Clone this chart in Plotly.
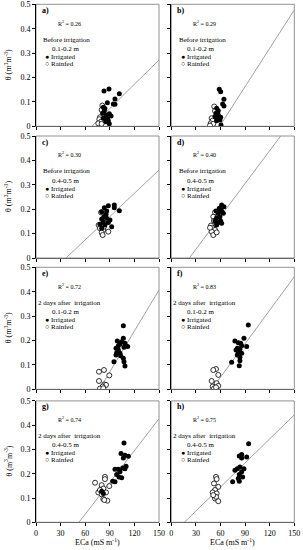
import plotly.graph_objects as go
import numpy as np

# ---------------- data ----------------
panels = ["a", "b", "c", "d", "e", "f", "g", "h"]
r2_values = ["0.26", "0.29", "0.30", "0.40", "0.72", "0.83", "0.74", "0.75"]
header_lines = ["Before irrigation", "Before irrigation", "Before irrigation", "Before irrigation",
                "2 days after  irrigation", "2 days after  irrigation",
                "2 days after  irrigation", "2 days after  irrigation"]
depth_labels = ["0.1-0.2 m", "0.1-0.2 m", "0.4-0.5 m", "0.4-0.5 m",
                "0.1-0.2 m", "0.1-0.2 m", "0.4-0.5 m", "0.4-0.5 m"]
# regression line: slope and intercept (theta = slope*ECa + intercept)
slopes = [0.00331, 0.00524, 0.00318, 0.00449, 0.00559, 0.00458, 0.00437, 0.00330]
intercepts = [-0.2249, -0.309, -0.1165, -0.0988, -0.4317, -0.2253, -0.229, -0.0525]

a_irr_x = [82.9, 89, 101.6, 96.3, 94.3, 87, 96.3, 82.1, 83.3, 81.3, 85.4, 89.4, 91.5, 82.1, 87, 88.2, 85.4, 89.4, 84]
a_irr_y = [0.145, 0.153, 0.133, 0.112, 0.0915, 0.097, 0.090, 0.078, 0.064, 0.053, 0.046, 0.051, 0.042, 0.033, 0.033, 0.023, 0.019, 0.010, 0.073]
a_rf_x = [80.9, 80, 78, 77.2, 79.3, 76, 80]
a_rf_y = [0.085, 0.067, 0.037, 0.029, 0.019, 0.012, 0.010]

b_irr_x = [58.5, 60.2, 64.2, 62.6, 64.2, 55.3, 57.3, 54.5, 57.3, 60.2, 56.1, 53.3, 59.3, 60.6, 55.3]
b_irr_y = [0.152, 0.142, 0.111, 0.0915, 0.083, 0.074, 0.064, 0.053, 0.046, 0.037, 0.033, 0.040, 0.026, 0.005, 0.023]
b_rf_x = [52.4, 53.3, 49.2, 50.4, 48, 51.2, 47.2]
b_rf_y = [0.081, 0.063, 0.033, 0.023, 0.012, 0.010, 0.003]

c_irr_x = [88.2, 83.3, 95.5, 95.5, 101.6, 80.1, 86.2, 85.4, 82.9, 80.1, 86.2, 82.1, 88.2, 78, 84.1, 92.3, 80.1, 90.2]
c_irr_y = [0.214, 0.206, 0.217, 0.206, 0.194, 0.190, 0.193, 0.179, 0.169, 0.160, 0.163, 0.149, 0.146, 0.138, 0.135, 0.128, 0.122, 0.156]
c_rf_x = [79.3, 76.4, 78, 82.1, 80.1, 81.3, 88.2, 82.9]
c_rf_y = [0.187, 0.135, 0.122, 0.115, 0.104, 0.094, 0.108, 0.128]

d_irr_x = [61.4, 64.2, 58.5, 61.4, 63.4, 57.3, 59.3, 55.3, 60.2, 53.3, 57.3, 55.3, 61.4, 54.5, 59.3]
d_irr_y = [0.217, 0.210, 0.204, 0.193, 0.183, 0.183, 0.169, 0.165, 0.152, 0.152, 0.146, 0.135, 0.142, 0.193, 0.197]
d_rf_x = [53.3, 51.2, 52, 48.4, 50.4, 53.3, 49.2, 51.2, 55.3, 47.2]
d_rf_y = [0.187, 0.169, 0.152, 0.133, 0.122, 0.115, 0.108, 0.094, 0.105, 0.124]

e_irr_x = [106.5, 106.5, 99.2, 104.5, 108.5, 102.4, 111.8, 107.3, 97.6, 100.4, 98.4, 102.4, 97.6, 103.3, 106.5, 107.3, 95.1, 108.5, 100.4]
e_irr_y = [0.260, 0.209, 0.198, 0.195, 0.189, 0.186, 0.175, 0.172, 0.168, 0.161, 0.150, 0.148, 0.141, 0.137, 0.127, 0.113, 0.113, 0.096, 0.178]
e_rf_x = [76.8, 82.9, 89.4, 76.8, 83.3, 85.4, 81.3, 78, 82.1]
e_rf_y = [0.072, 0.079, 0.057, 0.034, 0.020, 0.018, 0.011, 0.003, 0.004]

f_irr_x = [93.9, 88.6, 77.6, 81.7, 84.6, 91.9, 80.5, 83.7, 78.9, 81.7, 85.8, 80.5, 83.7, 83.7, 73.6, 82.9, 85.8]
f_irr_y = [0.264, 0.209, 0.198, 0.191, 0.189, 0.175, 0.168, 0.164, 0.161, 0.154, 0.148, 0.141, 0.131, 0.117, 0.111, 0.097, 0.178]
f_rf_x = [54.5, 57.3, 51.2, 49.2, 55.3, 57.3, 50.4, 52, 54.5]
f_rf_y = [0.083, 0.059, 0.079, 0.034, 0.025, 0.014, 0.011, 0.003, 0.008]

g_irr_x = [107.3, 103.7, 108.5, 112.6, 106.5, 109.8, 105.7, 100.4, 96.3, 102.4, 98.4, 101.2, 104.5, 93.5, 96.3, 108.5, 80.1, 82.1]
g_irr_y = [0.327, 0.283, 0.276, 0.272, 0.265, 0.231, 0.224, 0.219, 0.219, 0.208, 0.197, 0.187, 0.183, 0.169, 0.167, 0.221, 0.128, 0.119]
g_rf_x = [72, 84.1, 84.1, 80.1, 89.4, 82.1, 76, 80.1, 85.4, 82.1, 87, 83.3, 78]
g_rf_y = [0.163, 0.187, 0.178, 0.153, 0.149, 0.139, 0.123, 0.115, 0.123, 0.096, 0.089, 0.092, 0.133]

h_irr_x = [94.3, 85.8, 82.9, 91.9, 85.8, 83.7, 80.5, 88.6, 77.6, 85.8, 82.9, 87, 81.7, 74.8, 82.9]
h_irr_y = [0.324, 0.279, 0.273, 0.269, 0.265, 0.228, 0.221, 0.221, 0.214, 0.208, 0.197, 0.187, 0.180, 0.167, 0.169]
h_rf_x = [54.5, 55.3, 52, 57.3, 53.3, 50.4, 55.3, 53.3, 57.3, 54.5, 51.2]
h_rf_y = [0.187, 0.178, 0.160, 0.146, 0.133, 0.123, 0.119, 0.098, 0.087, 0.105, 0.112]

x_ticks = [0, 30, 60, 90, 120, 150]
y_ticks = [0, 0.1, 0.2, 0.3, 0.4, 0.5]
y_tick_labels = ["0", "0.1", "0.2", "0.3", "0.4", "0.5"]
x_title = "ECa (mS m<sup>-1</sup>)"
y_title = "θ (m<sup>3</sup>m<sup>-3</sup>)"

irr_x = [a_irr_x, b_irr_x, c_irr_x, d_irr_x, e_irr_x, f_irr_x, g_irr_x, h_irr_x]
irr_y = [a_irr_y, b_irr_y, c_irr_y, d_irr_y, e_irr_y, f_irr_y, g_irr_y, h_irr_y]
rf_x = [a_rf_x, b_rf_x, c_rf_x, d_rf_x, e_rf_x, f_rf_x, g_rf_x, h_rf_x]
rf_y = [a_rf_y, b_rf_y, c_rf_y, d_rf_y, e_rf_y, f_rf_y, g_rf_y, h_rf_y]

# ---------------- layout ----------------
W, H = 303, 550
FONT = "Liberation Serif"
col_dom = [[36 / W, 159 / W], [171.3 / W, 294.3 / W]]
row_px = [(4.3, 126.3), (136, 258), (267.3, 389.3), (400.9, 522.3)]
row_dom = [[1 - b / H, 1 - t / H] for t, b in row_px]

fig = go.Figure()
layout = dict(
    width=W, height=H, margin=dict(l=0, r=0, t=0, b=0),
    paper_bgcolor="white", plot_bgcolor="white", showlegend=False,
    font=dict(family=FONT, size=8, color="black"),
)
annotations = []
shapes = []

for i, p in enumerate(panels):
    row, col = divmod(i, 2)
    n = i + 1
    xa = "x" if n == 1 else f"x{n}"
    ya = "y" if n == 1 else f"y{n}"
    xk = "xaxis" if n == 1 else f"xaxis{n}"
    yk = "yaxis" if n == 1 else f"yaxis{n}"

    m, c = slopes[i], intercepts[i]
    x0 = max(0.0, -c / m)
    x1 = min(150.0, (0.5 - c) / m)
    lx = np.array([x0, x1])
    fig.add_trace(go.Scatter(x=lx, y=m * lx + c, mode="lines", xaxis=xa, yaxis=ya,
                             line=dict(color="#8a8a8a", width=0.8), hoverinfo="skip"))
    fig.add_trace(go.Scatter(x=rf_x[i], y=rf_y[i], mode="markers", xaxis=xa, yaxis=ya,
                             marker=dict(size=5, color="white", line=dict(color="black", width=0.8))))
    fig.add_trace(go.Scatter(x=irr_x[i], y=irr_y[i], mode="markers", xaxis=xa, yaxis=ya,
                             marker=dict(size=5, color="black", line=dict(width=0))))

    bottom = row == 3
    left = col == 0
    layout[xk] = dict(
        domain=col_dom[col], anchor=ya, range=[0, 150], tickvals=x_ticks,
        showticklabels=bottom, ticks="outside", ticklen=3, tickcolor="black",
        showline=True, linecolor="#666", linewidth=1, showgrid=False, zeroline=False,
        tickfont=dict(family=FONT, size=8), automargin=False,
    )
    layout[yk] = dict(
        domain=row_dom[row], anchor=xa, range=[0, 0.5], tickvals=y_ticks, ticktext=y_tick_labels,
        showticklabels=left, ticks="outside", ticklen=3, tickcolor="black",
        showline=True, linecolor="black", linewidth=1, showgrid=False, zeroline=False,
        tickfont=dict(family=FONT, size=8), automargin=False,
    )
    shapes.append(dict(type="rect", xref=f"{xa} domain", yref=f"{ya} domain", x0=0, x1=1, y0=0, y1=1,
                       line=dict(color="#777", width=0.8), layer="below"))

    def ann(x, y, text, size=7, xanchor="center", bold=False):
        annotations.append(dict(xref=f"{xa} domain", yref=f"{ya} domain", x=x, y=y,
                                text=f"<b>{text}</b>" if bold else text, showarrow=False,
                                xanchor=xanchor, yanchor="middle",
                                font=dict(family=FONT, size=size, color="black")))

    ann(0.03, 0.95, f"{p})", size=8, xanchor="left", bold=True)
    ann(0.27, 0.85, f"R<sup>2</sup> = {r2_values[i]}", size=6)
    ann(0.25 if row < 2 else 0.27, 0.71, header_lines[i], size=7)
    ann(0.24, 0.635, depth_labels[i], size=7)
    ann(0.06, 0.568, "● Irrigated", size=7, xanchor="left")
    ann(0.06, 0.51, "○ Rainfed", size=7, xanchor="left")

    if left:
        annotations.append(dict(xref="paper", yref=f"{ya} domain", x=8 / W, y=0.5, text=y_title,
                                textangle=-90, showarrow=False, xanchor="center", yanchor="middle",
                                font=dict(family=FONT, size=8, color="black")))
    if bottom:
        annotations.append(dict(xref=f"{xa} domain", yref="paper", x=0.5, y=1 - 542 / H, text=x_title,
                                showarrow=False, xanchor="center", yanchor="middle",
                                font=dict(family=FONT, size=8, color="black")))

layout["annotations"] = annotations
layout["shapes"] = shapes
fig.update_layout(**layout)
fig.write_html("out.html", config={"displayModeBar": False},
               post_script="document.body.style.margin='0';document.body.style.overflow='hidden';")
